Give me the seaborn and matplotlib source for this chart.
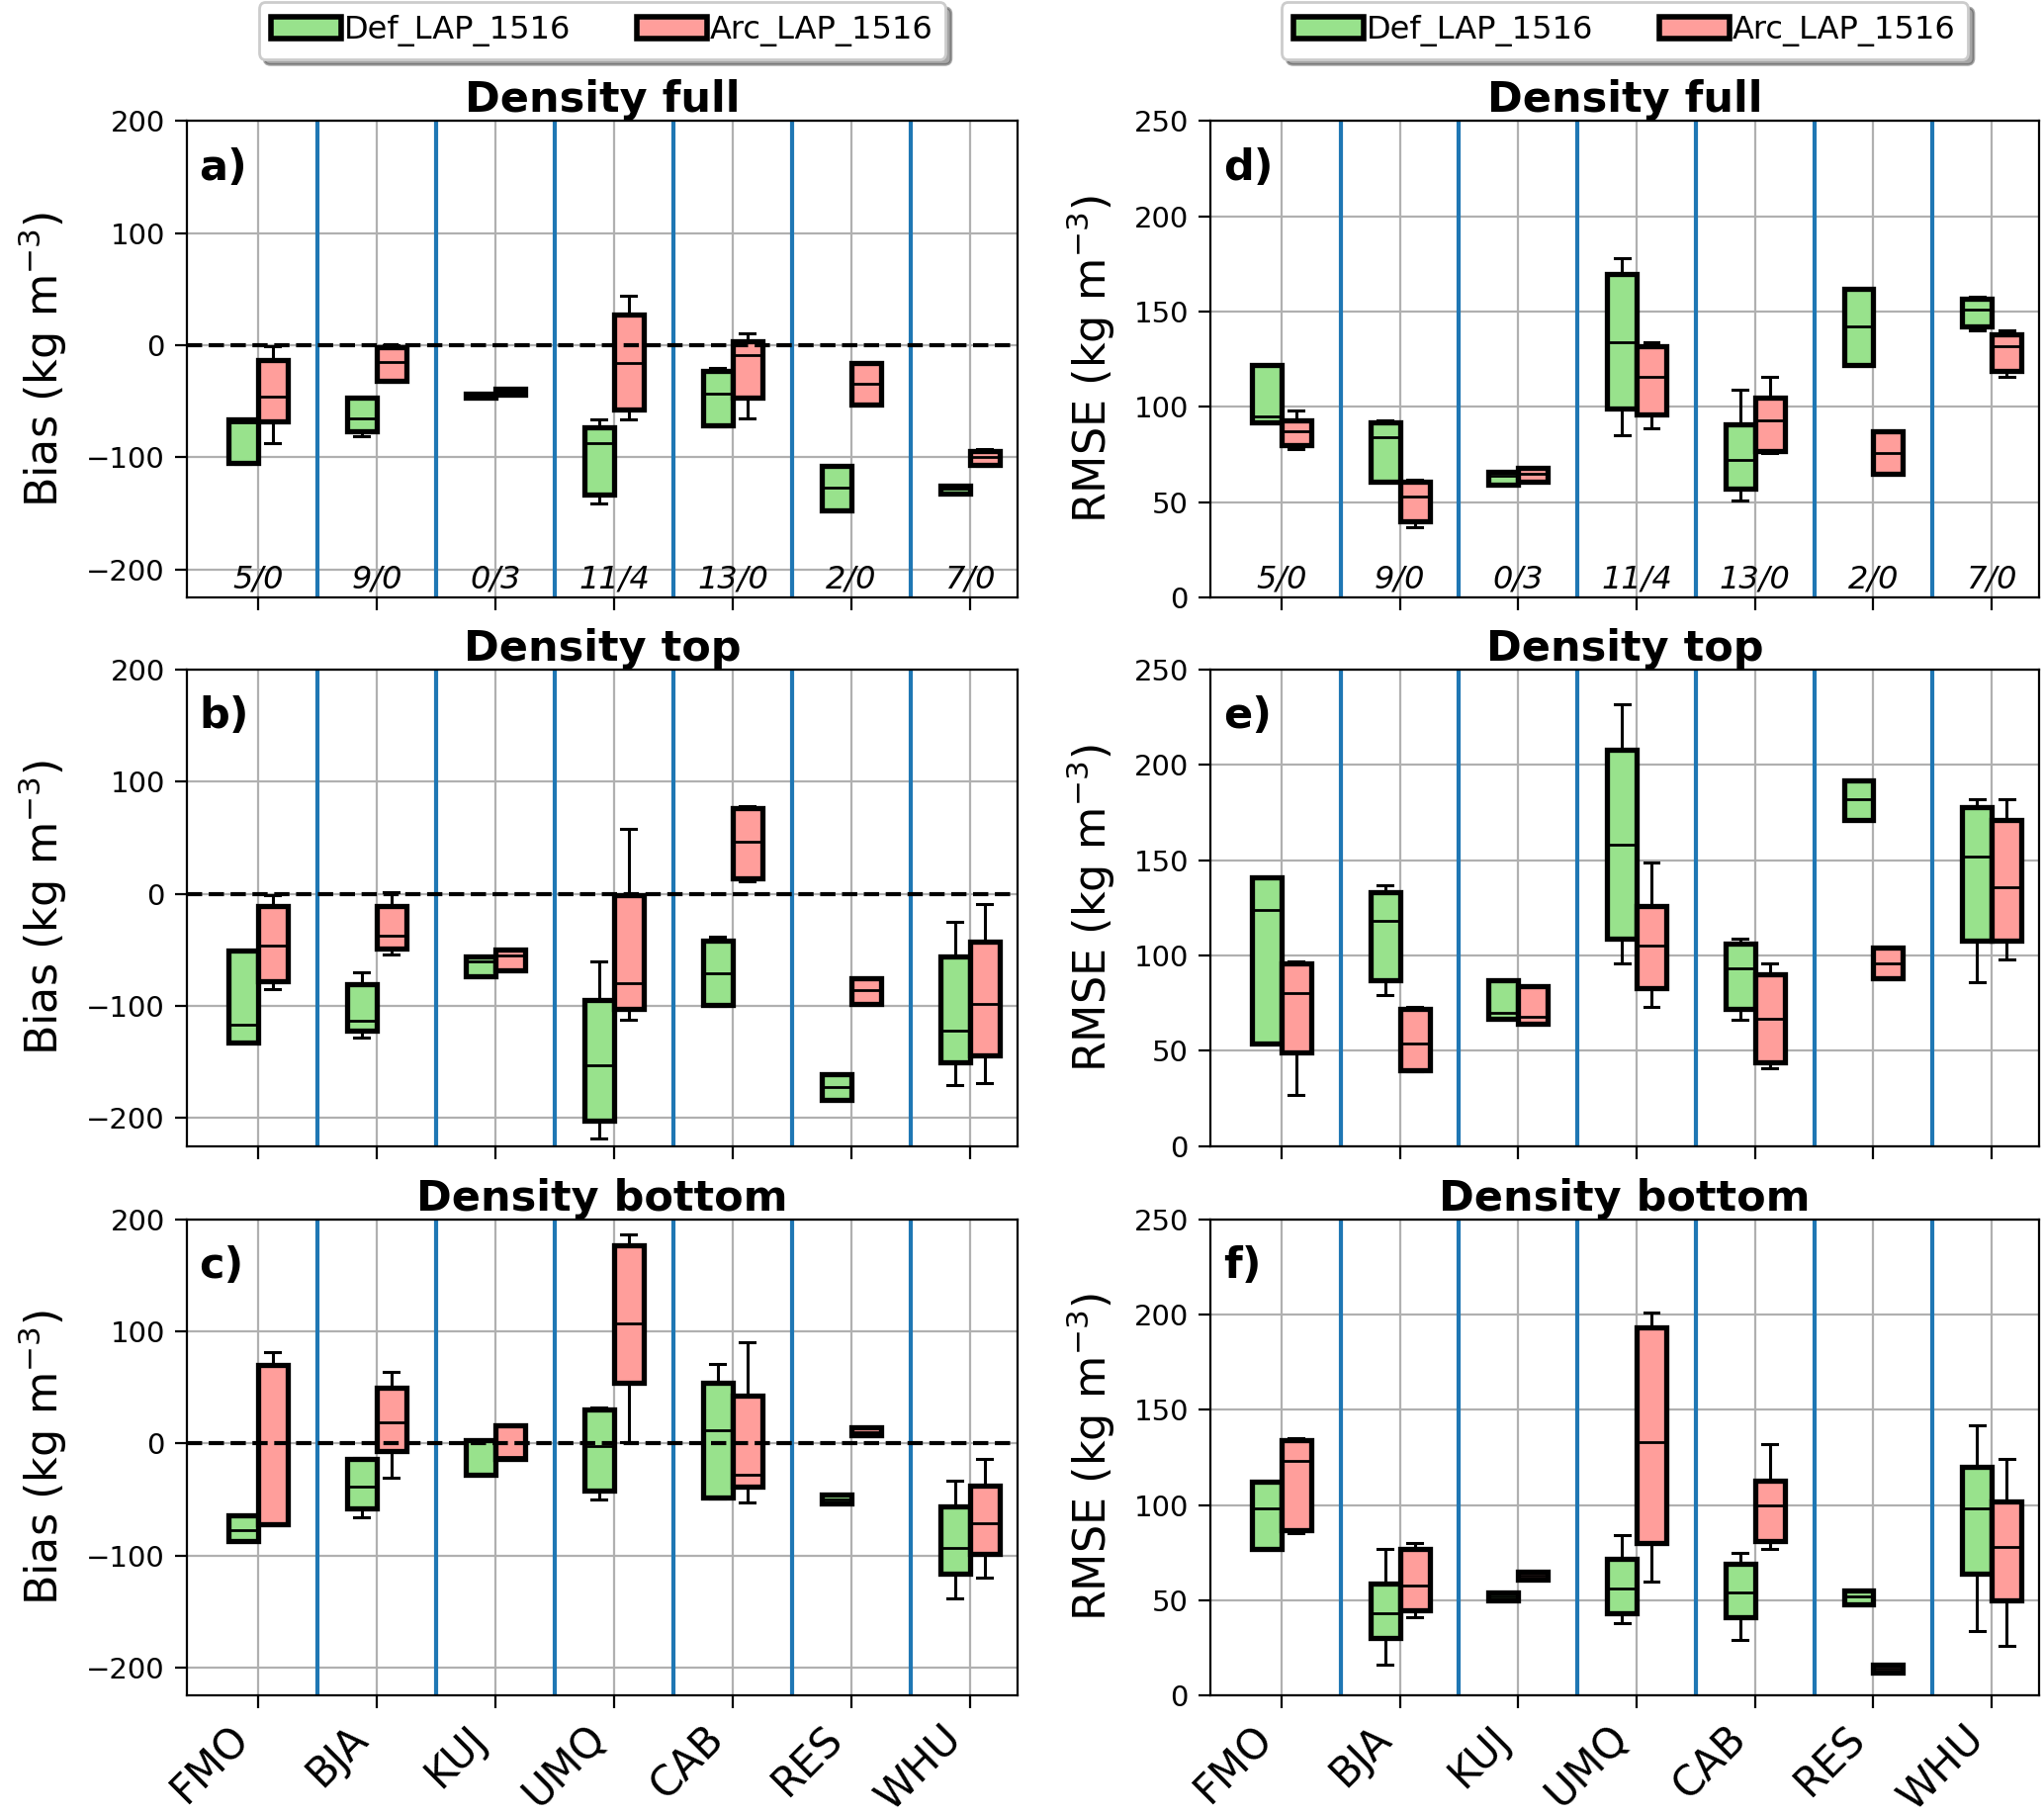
import numpy as np
import pandas as pd
import matplotlib
matplotlib.use("Agg")
import matplotlib.pyplot as plt
import matplotlib.transforms as mtransforms
from matplotlib.patches import Patch
import seaborn as sns

# ---------------- data ----------------
stations = ["FMO", "BJA", "KUJ", "UMQ", "CAB", "RES", "WHU"]
runs = ["Def_LAP_1516", "Arc_LAP_1516"]
run_colors = ["#98e28c", "#ff9e9b"]
counts = ["5/0", "9/0", "0/3", "11/4", "13/0", "2/0", "7/0"]

# five-number summaries per station: [low whisker, q1, median, q3, high whisker]
bias_full_def = [[-106, -105, -69, -66, -66], [-81, -77, -65, -47, -47], [-47, -47, -45, -43, -43],
                 [-141, -133, -87, -73, -66], [-72, -71, -43, -23, -20], [-147, -147, -127, -108, -108],
                 [-132, -132, -128, -125, -125]]
bias_full_arc = [[-87, -68, -46, -13, -1], [-33, -32, -15, -2, 0], [-44, -44, -41, -39, -39],
                 [-66, -57, -16, 27, 44], [-65, -47, -9, 4, 11], [-53, -53, -34, -16, -16],
                 [-108, -107, -100, -94, -93]]
bias_top_def = [[-133, -133, -117, -51, -51], [-128, -122, -113, -81, -70], [-74, -74, -60, -56, -56],
                [-218, -202, -153, -95, -60], [-100, -99, -71, -42, -38], [-184, -184, -172, -161, -161],
                [-171, -150, -122, -56, -25]]
bias_top_arc = [[-85, -78, -46, -11, -1], [-54, -49, -37, -11, 1], [-68, -68, -55, -50, -50],
                [-112, -103, -80, -1, 58], [11, 14, 46, 76, 78], [-98, -98, -86, -75, -75],
                [-169, -144, -98, -43, -9]]
bias_bot_def = [[-87, -87, -77, -64, -64], [-66, -58, -39, -14, -13], [-28, -28, 2, 3, 3],
                [-50, -42, -2, 30, 32], [-49, -48, 12, 54, 71], [-54, -54, -50, -46, -46],
                [-138, -116, -93, -56, -33]]
bias_bot_arc = [[-72, -72, -72, 70, 81], [-31, -7, 19, 50, 64], [-14, -14, -12, 16, 16],
                [1, 54, 107, 177, 186], [-53, -39, -28, 43, 90], [7, 7, 10, 14, 14],
                [-120, -99, -71, -38, -14]]
rmse_full_def = [[92, 92, 95, 122, 122], [61, 61, 84, 92, 93], [59, 59, 64, 66, 66],
                 [85, 99, 134, 170, 178], [51, 57, 72, 91, 109], [122, 122, 142, 162, 162],
                 [140, 142, 151, 157, 158]]
rmse_full_arc = [[78, 80, 87, 93, 98], [37, 40, 53, 61, 62], [61, 61, 65, 68, 68],
                 [89, 96, 116, 132, 134], [76, 77, 93, 105, 116], [65, 65, 76, 87, 87],
                 [116, 119, 132, 138, 140]]
rmse_top_def = [[54, 54, 124, 141, 141], [79, 87, 118, 133, 137], [67, 67, 70, 87, 87],
                [96, 109, 158, 208, 232], [66, 72, 93, 106, 109], [171, 171, 182, 192, 192],
                [86, 108, 152, 178, 182]]
rmse_top_arc = [[27, 49, 80, 96, 97], [39, 40, 54, 72, 73], [64, 64, 68, 84, 84],
                [73, 83, 105, 126, 149], [41, 44, 67, 90, 96], [88, 88, 96, 104, 104],
                [98, 108, 136, 171, 182]]
rmse_bot_def = [[77, 77, 98, 112, 112], [16, 30, 43, 59, 77], [50, 50, 52, 54, 54],
                [38, 43, 56, 72, 84], [29, 41, 54, 69, 75], [48, 48, 52, 55, 55],
                [34, 64, 98, 120, 142]]
rmse_bot_arc = [[85, 87, 123, 134, 135], [41, 45, 58, 77, 80], [61, 61, 63, 65, 65],
                [60, 80, 133, 193, 201], [77, 81, 100, 113, 132], [12, 12, 14, 16, 16],
                [26, 50, 78, 102, 124]]

titles = ["Density full", "Density top", "Density bottom"]
bias_ticks = [-200, -100, 0, 100, 200]
rmse_ticks = [0, 50, 100, 150, 200, 250]

panels = [
    # (col, row, label, def, arc, kind)
    (0, 0, "a)", bias_full_def, bias_full_arc, "bias"),
    (0, 1, "b)", bias_top_def, bias_top_arc, "bias"),
    (0, 2, "c)", bias_bot_def, bias_bot_arc, "bias"),
    (1, 0, "d)", rmse_full_def, rmse_full_arc, "rmse"),
    (1, 1, "e)", rmse_top_def, rmse_top_arc, "rmse"),
    (1, 2, "f)", rmse_bot_def, rmse_bot_arc, "rmse"),
]

# ---------------- figure ----------------
fig = plt.figure(figsize=(10.335, 9.175), dpi=200)
col_left = [0.0914, 0.5922]
col_width = [0.4064, 0.4054]
row_bottom = [0.6708, 0.3686, 0.0658]
ax_height = 0.2625

palette = dict(zip(runs, run_colors))

for col, row, lab, d_def, d_arc, kind in panels:
    ax = fig.add_axes([col_left[col], row_bottom[row], col_width[col], ax_height])
    rows = []
    for i, st in enumerate(stations):
        for run, arr in zip(runs, [d_def, d_arc]):
            for v in arr[i]:
                rows.append((st, run, v))
    df = pd.DataFrame(rows, columns=["station", "run", "value"])
    sns.boxplot(data=df, x="station", y="value", hue="run", order=stations, hue_order=runs,
                palette=palette, saturation=1, width=0.5, gap=0, whis=(0, 100),
                linecolor="black", linewidth=1.8,
                boxprops=dict(linewidth=1.9, edgecolor="black"),
                medianprops=dict(linewidth=1.0, color="black"),
                whiskerprops=dict(linewidth=1.1, color="black"),
                capprops=dict(linewidth=1.1, color="black"),
                legend=False, ax=ax)
    n = len(stations)
    ax.set_xlim(-0.6, n - 0.6)
    ax.set_xticks(range(n))
    ax.grid(True, color="#b0b0b0", linewidth=0.8)
    ax.set_axisbelow(True)
    for b in np.arange(n - 1) + 0.5:
        ax.axvline(b, color="#1f77b4", linewidth=1.5, zorder=1.5)
    if kind == "bias":
        ax.set_ylim(-225, 200)
        ax.set_yticks(bias_ticks)
        ax.axhline(0, color="black", linestyle="--", linewidth=1.5, zorder=5)
        ax.set_ylabel("Bias (kg m$^{-3}$)", fontsize=16, labelpad=6)
    else:
        ax.set_ylim(0, 250)
        ax.set_yticks(rmse_ticks)
        ax.set_ylabel("RMSE (kg m$^{-3}$)", fontsize=16, labelpad=6)
    ax.set_xlabel("")
    ax.tick_params(labelsize=10.5, length=4.5, width=0.8)
    if row == 2:
        ax.set_xticklabels(stations, rotation=45, ha="right", fontsize=15)
        ax.tick_params(axis="x", pad=3.3)
    else:
        ax.set_xticklabels([])
    ax.set_title(titles[row], fontsize=15.5, fontweight="bold", pad=3)
    ax.text(0.015, 0.945, lab, transform=ax.transAxes, fontsize=15.5, fontweight="bold",
            va="top", ha="left")
    if row == 0:
        trans = mtransforms.blended_transform_factory(ax.transData, ax.transAxes)
        for i, c in enumerate(counts):
            ax.text(i, 0.019, c, transform=trans, ha="center", va="baseline",
                    fontsize=11.5, style="italic")
        handles = [Patch(facecolor=c, edgecolor="black", linewidth=2, label=r)
                   for r, c in zip(runs, run_colors)]
        ax.legend(handles=handles, loc="lower center", bbox_to_anchor=(0.5, 1.13), ncol=2,
                  fontsize=11.5, fancybox=True, shadow=True, framealpha=1,
                  handlelength=2.2, handletextpad=0.1, columnspacing=2.1, borderaxespad=0)

fig.savefig("out.png", dpi=200)
